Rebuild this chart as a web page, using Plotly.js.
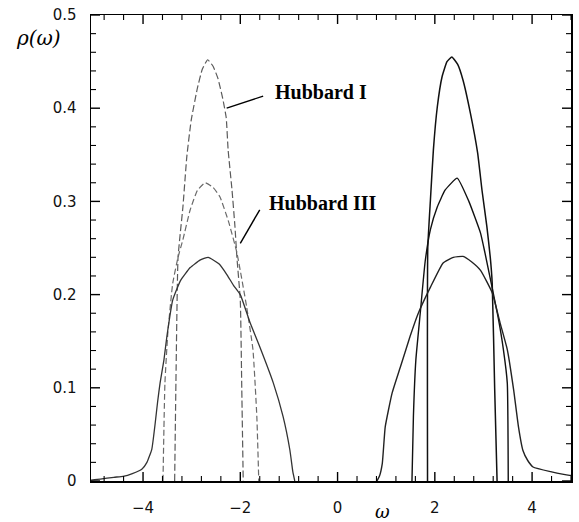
<!DOCTYPE html>
<html>
<head>
<meta charset="utf-8">
<script src="https://cdn.plot.ly/plotly-3.0.1.min.js"></script>
<style>
  html, body { margin: 0; padding: 0; background: #fff; }
  #plot { width: 579px; height: 522px; }
</style>
</head>
<body>
<div id="plot"></div>
<script>
// Spectral density rho(omega): Hubbard I, Hubbard III and a broad third solution.
// Each model has a lower band (omega < 0) and an upper band (omega > 0).

const hub1LowOmega = [-3.35, -3.32, -3.28, -3.18, -3.10, -3.01, -2.88, -2.78, -2.67, -2.56, -2.46, -2.36, -2.29, -2.25, -2.17, -2.11, -2.07, -2.00, -1.97, -1.94];
const hub1LowRho   = [0.000, 0.120, 0.240, 0.294, 0.348, 0.387, 0.422, 0.442, 0.452, 0.445, 0.432, 0.410, 0.390, 0.355, 0.312, 0.273, 0.240, 0.194, 0.100, 0.000];

const hub1UpOmega = [1.85, 1.855, 1.91, 1.97, 2.05, 2.15, 2.25, 2.35, 2.47, 2.58, 2.73, 2.88, 2.97, 3.07, 3.14, 3.18, 3.23, 3.28];
const hub1UpRho   = [0.000, 0.250, 0.302, 0.355, 0.401, 0.434, 0.450, 0.455, 0.447, 0.430, 0.395, 0.352, 0.312, 0.273, 0.240, 0.212, 0.100, 0.000];

const hub3LowOmega = [-3.59, -3.55, -3.49, -3.39, -3.28, -3.18, -3.03, -2.88, -2.72, -2.56, -2.42, -2.24, -2.07, -1.87, -1.74, -1.66, -1.62];
const hub3LowRho   = [0.000, 0.105, 0.159, 0.212, 0.240, 0.259, 0.291, 0.312, 0.320, 0.315, 0.305, 0.278, 0.245, 0.187, 0.141, 0.069, 0.000];

const hub3UpOmega = [1.53, 1.56, 1.61, 1.70, 1.80, 1.91, 2.05, 2.21, 2.46, 2.70, 2.94, 3.03, 3.30, 3.41, 3.49, 3.51];
const hub3UpRho   = [0.000, 0.070, 0.130, 0.180, 0.235, 0.270, 0.294, 0.312, 0.325, 0.300, 0.266, 0.245, 0.176, 0.141, 0.105, 0.000];

const broadLowOmega = [-5.07, -4.88, -4.60, -4.41, -4.22, -4.02, -3.92, -3.82, -3.75, -3.70, -3.65, -3.57, -3.51, -3.39, -3.23, -3.03, -2.83, -2.66, -2.44, -2.27, -2.14, -2.00, -1.80, -1.60, -1.32, -1.12, -0.98, -0.92, -0.88];
const broadLowRho   = [0.001, 0.002, 0.004, 0.005, 0.008, 0.013, 0.020, 0.034, 0.062, 0.085, 0.105, 0.130, 0.155, 0.194, 0.215, 0.229, 0.237, 0.240, 0.233, 0.221, 0.210, 0.200, 0.170, 0.144, 0.105, 0.069, 0.033, 0.010, 0.000];

const broadUpOmega = [0.81, 0.86, 0.92, 0.98, 1.12, 1.29, 1.49, 1.66, 1.91, 2.17, 2.38, 2.58, 2.76, 2.94, 3.18, 3.34, 3.49, 3.62, 3.72, 3.81, 3.91, 4.02, 4.38, 4.77, 4.80];
const broadUpRho   = [0.000, 0.005, 0.019, 0.058, 0.094, 0.122, 0.155, 0.180, 0.208, 0.234, 0.240, 0.241, 0.235, 0.226, 0.202, 0.170, 0.141, 0.098, 0.058, 0.033, 0.022, 0.015, 0.010, 0.006, 0.006];

// Axis ranges and tick spacing (major / minor)
const xRange = [-5.07, 4.80], yRange = [0, 0.5];
const xMajorStep = 2, xMinorStep = 0.4;
const yMajorStep = 0.1, yMinorStep = 0.02;

const labelHub1 = 'Hubbard I';
const labelHub3 = 'Hubbard III';

const INK = 'rgb(0,0,0)';
const W = 579, H = 522;
const M = { l: 91, r: 8, t: 15, b: 41 };
const MAJOR_LEN = 9, MINOR_LEN = 5;   // tick lengths in pixels

function band(x, y, color, dash, width) {
  return {
    x: x, y: y, type: 'scatter', mode: 'lines', hoverinfo: 'skip',
    line: { color: color, width: width, dash: dash, shape: 'spline', smoothing: 0.4 }
  };
}

const traces = [
  band(hub1LowOmega, hub1LowRho, 'rgb(90,90,90)', '7px,3px', 1.2),
  band(hub3LowOmega, hub3LowRho, 'rgb(106,106,106)', '6px,3px', 1.2),
  band(broadLowOmega, broadLowRho, 'rgb(51,51,51)', 'solid', 1.3),
  band(hub1UpOmega, hub1UpRho, 'rgb(17,17,17)', 'solid', 1.5),
  band(hub3UpOmega, hub3UpRho, 'rgb(17,17,17)', 'solid', 1.4),
  band(broadUpOmega, broadUpRho, 'rgb(34,34,34)', 'solid', 1.4)
];

// Inward tick marks on all four sides of the frame, as short line shapes in axis units.
function tickMarks() {
  const out = [];
  const xPerPx = (xRange[1] - xRange[0]) / (W - M.l - M.r);
  const yPerPx = (yRange[1] - yRange[0]) / (H - M.t - M.b);
  const isMajor = (v, step) => Math.abs(v / step - Math.round(v / step)) < 1e-6;
  const seg = (x0, y0, x1, y1, w) => ({ type: 'line', xref: 'x', yref: 'y', x0: x0, y0: y0, x1: x1, y1: y1, layer: 'above', line: { color: INK, width: w } });

  for (let k = Math.ceil(xRange[0] / xMinorStep); k * xMinorStep <= xRange[1] + 1e-9; k++) {
    const v = +(k * xMinorStep).toFixed(6);
    const major = isMajor(v, xMajorStep);
    const len = (major ? MAJOR_LEN : MINOR_LEN) * yPerPx;
    const w = major ? 1.4 : 1.1;
    out.push(seg(v, yRange[0], v, yRange[0] + len, w));
    out.push(seg(v, yRange[1], v, yRange[1] - len, w));
  }
  for (let k = Math.ceil(yRange[0] / yMinorStep); k * yMinorStep <= yRange[1] + 1e-9; k++) {
    const v = +(k * yMinorStep).toFixed(6);
    const major = isMajor(v, yMajorStep);
    const len = (major ? MAJOR_LEN : MINOR_LEN) * xPerPx;
    const w = major ? 1.4 : 1.1;
    out.push(seg(xRange[0], v, xRange[0] + len, v, w));
    out.push(seg(xRange[1], v, xRange[1] - len, v, w));
  }
  return out;
}

const tickFont = { family: 'DejaVu Sans, Liberation Sans, sans-serif', size: 15, color: 'rgb(17,17,17)' };
const labelFont = { family: 'Liberation Serif, serif', size: 20, color: INK, weight: 'bold' };

function frameAxis(range, major, standoff) {
  return {
    range: range,
    tickmode: 'linear', tick0: 0, dtick: major,
    showgrid: false, zeroline: false,
    showline: true, linecolor: INK, linewidth: 1.5, mirror: true,
    ticks: '',
    tickfont: tickFont,
    ticklabelstandoff: standoff
  };
}

const leaderLines = [
  { type: 'line', xref: 'x', yref: 'y', x0: -2.28, y0: 0.400, x1: -1.53, y1: 0.413, line: { color: INK, width: 1.4 } },
  { type: 'line', xref: 'x', yref: 'y', x0: -2.00, y0: 0.255, x1: -1.60, y1: 0.291, line: { color: INK, width: 1.4 } }
];

const layout = {
  width: W, height: H,
  margin: M,
  paper_bgcolor: 'rgb(255,255,255)', plot_bgcolor: 'rgb(255,255,255)',
  showlegend: false,
  xaxis: frameAxis(xRange, xMajorStep, 12),
  yaxis: frameAxis(yRange, yMajorStep, 10),
  shapes: tickMarks().concat(leaderLines),
  annotations: [
    { text: labelHub1, xref: 'x', yref: 'y', x: -1.33, y: 0.417, xanchor: 'left', yanchor: 'middle', showarrow: false, font: labelFont },
    { text: labelHub3, xref: 'x', yref: 'y', x: -1.45, y: 0.298, xanchor: 'left', yanchor: 'middle', showarrow: false, font: labelFont },
    { text: 'ρ(ω)', xref: 'paper', yref: 'paper', x: -0.11, y: 0.951, xanchor: 'center', yanchor: 'middle', showarrow: false,
      font: { family: 'DejaVu Serif, serif', size: 20, color: INK, style: 'italic' } },
    { text: 'ω', xref: 'paper', yref: 'paper', x: 0.608, y: -0.066, xanchor: 'center', yanchor: 'middle', showarrow: false,
      font: { family: 'DejaVu Serif, serif', size: 18, color: INK, style: 'italic' } }
  ]
};

Plotly.newPlot('plot', traces, layout, { staticPlot: true, displayModeBar: false });
</script>
</body>
</html>
